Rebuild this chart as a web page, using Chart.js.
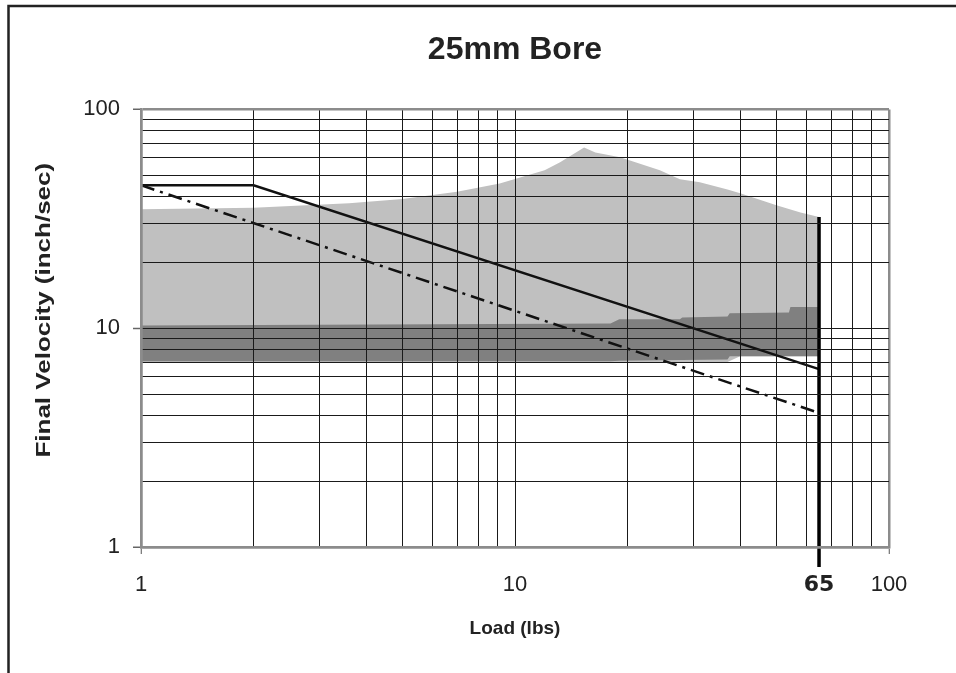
<!DOCTYPE html>
<html>
<head>
<meta charset="utf-8">
<title>25mm Bore</title>
<script src="https://cdn.jsdelivr.net/npm/chart.js@4.4.1/dist/chart.umd.min.js"></script>
<style>
  html, body { margin: 0; padding: 0; background: #fff; }
  canvas { display: block; }
</style>
</head>
<body>
<canvas id="boreChart" width="956" height="673"></canvas>
<script>
// grid positions and labelled ticks (log axes)
const gridValues = [1, 2, 3, 4, 5, 6, 7, 8, 9, 10, 20, 30, 40, 50, 60, 70, 80, 90, 100];
const labelValues = [1, 10, 100];
const maxLoad = 65;
const yTitle = 'Final Velocity (inch/sec)';

// light grey operating envelope
const lightX      = [1, 2, 3.6, 5, 7, 9.1, 12, 13.2, 15.3, 16.4, 19.1, 24.4, 27.6, 31.2, 37, 40, 50, 58, 65];
const lightTop    = [35, 35.5, 37.2, 39, 42, 45.9, 52.7, 57.3, 67, 63.6, 60.4, 52.7, 48, 46.5, 43, 41.4, 36.5, 33.8, 32.2];
const lightBottom = [7.0, 7.0, 7.0, 7.0, 7.0, 7.0, 7.0, 7.0, 7.0, 7.0, 7.0, 7.0, 7.0, 7.0, 7.0, 7.45, 7.45, 7.45, 7.45];

// dark grey band
const darkX      = [1, 18, 19, 27.6, 28, 37, 37.5, 54, 54.5, 65];
const darkTop    = [10.3, 10.5, 11.0, 11.0, 11.2, 11.3, 11.7, 11.8, 12.5, 12.5];
const darkBottom = [7.06, 7.06, 7.1, 7.15, 7.15, 7.2, 7.45, 7.45, 7.45, 7.45];

// velocity limit lines
const solidX = [1, 2, 65];
const solidY = [45, 45, 6.5];
const dashX  = [1, 65];
const dashY  = [45, 4.1];
const limitX = [maxLoad, maxLoad];
const limitY = [32.2, 0.81];

const pts = (xs, ys) => xs.map((x, i) => ({ x: x, y: ys[i] }));

// outer frame (left + top only) and the stretched vertical axis title
const frame = {
    id: 'frame',
    beforeDraw(chart) {
        const c = chart.ctx;
        c.save();
        c.strokeStyle = '#222';
        c.lineWidth = 2.5;
        c.beginPath();
        c.moveTo(8.5, 673);
        c.lineTo(8.5, 6);
        c.lineTo(956, 6);
        c.stroke();
        c.restore();
    },
    afterDraw(chart) {
        const a = chart.chartArea;
        const c = chart.ctx;
        c.save();
        c.translate(44, (a.top + a.bottom) / 2 - 18);
        c.rotate(-Math.PI / 2);
        c.scale(1.3, 1);
        c.fillStyle = '#222';
        c.font = 'bold 20px "Liberation Sans", Arial, sans-serif';
        c.textAlign = 'center';
        c.textBaseline = 'middle';
        c.fillText(yTitle, 0, 0);
        c.restore();
    }
};

const isEdge = v => v === 1 || v === 100;
const gridColor = ctx => {
    const v = ctx.tick && ctx.tick.value;
    if (v === maxLoad) return 'rgba(0,0,0,0)';
    return isEdge(v) ? '#8c8c8c' : '#1a1a1a';
};
const gridWidth = ctx => (ctx.tick && isEdge(ctx.tick.value)) ? 2.5 : 1;

new Chart(document.getElementById('boreChart'), {
    type: 'line',
    data: {
        datasets: [
            { data: pts(lightX, lightTop), fill: 1, backgroundColor: '#c0c0c0', borderWidth: 0, pointRadius: 0, order: 5 },
            { data: pts(lightX, lightBottom), fill: false, borderWidth: 0, pointRadius: 0, order: 6 },
            { data: pts(darkX, darkTop), fill: 3, backgroundColor: '#808080', borderWidth: 0, pointRadius: 0, order: 3 },
            { data: pts(darkX, darkBottom), fill: false, borderWidth: 0, pointRadius: 0, order: 4 },
            { data: pts(solidX, solidY), borderColor: '#111', borderWidth: 2.5, pointRadius: 0, fill: false, order: 1 },
            { data: pts(dashX, dashY), borderColor: '#111', borderWidth: 2.5, borderDash: [14, 6, 3, 6], pointRadius: 0, fill: false, order: 1 },
            { data: pts(limitX, limitY), borderColor: '#000', borderWidth: 3.5, pointRadius: 0, fill: false, clip: false, order: 0 }
        ]
    },
    options: {
        responsive: false,
        animation: false,
        layout: { padding: { left: 0, right: 67, top: 0, bottom: 0 } },
        plugins: {
            legend: { display: false },
            tooltip: { enabled: false },
            title: {
                display: true,
                text: '25mm Bore',
                fullSize: false,
                color: '#222',
                font: { family: 'Liberation Sans, Arial, sans-serif', size: 32, weight: 'bold' },
                padding: { top: 31, bottom: 40 }
            }
        },
        scales: {
            x: {
                type: 'logarithmic',
                min: 1,
                max: 100,
                afterFit: s => { s.height = 126; },
                afterBuildTicks: s => {
                    s.ticks = gridValues.concat([maxLoad]).sort((a, b) => a - b).map(v => ({ value: v }));
                },
                grid: {
                    z: 1,
                    color: gridColor,
                    lineWidth: gridWidth,
                    tickColor: ctx => (ctx.tick && isEdge(ctx.tick.value)) ? '#555' : 'rgba(0,0,0,0)',
                    tickLength: 7,
                    tickWidth: 1
                },
                border: { z: 2, color: '#8c8c8c', width: 2.5 },
                ticks: {
                    autoSkip: false,
                    maxRotation: 0,
                    padding: 18,
                    color: '#222',
                    font: ctx => (ctx.tick && ctx.tick.value === maxLoad)
                        ? { family: 'DejaVu Sans', size: 22, weight: 'bold' }
                        : { family: 'Liberation Sans, Arial, sans-serif', size: 22 },
                    callback: v => (labelValues.includes(v) || v === maxLoad) ? String(v) : ''
                },
                title: {
                    display: true,
                    text: 'Load (lbs)',
                    color: '#222',
                    font: { family: 'Liberation Sans, Arial, sans-serif', size: 19, weight: 'bold' },
                    padding: { top: 0, bottom: 33 }
                }
            },
            y: {
                type: 'logarithmic',
                min: 1,
                max: 100,
                afterFit: s => { s.width = 141; },
                afterBuildTicks: s => {
                    s.ticks = gridValues.map(v => ({ value: v }));
                },
                grid: {
                    z: 1,
                    color: gridColor,
                    lineWidth: gridWidth,
                    tickColor: ctx => (ctx.tick && labelValues.includes(ctx.tick.value)) ? '#666' : 'rgba(0,0,0,0)',
                    tickLength: 8,
                    tickWidth: 1.5
                },
                border: { z: 2, color: '#8c8c8c', width: 2.5 },
                ticks: {
                    autoSkip: false,
                    padding: 13,
                    color: '#222',
                    font: { family: 'Liberation Sans, Arial, sans-serif', size: 22 },
                    callback: v => labelValues.includes(v) ? String(v) : ''
                },
                title: { display: false }
            }
        }
    },
    plugins: [frame]
});
</script>
</body>
</html>
